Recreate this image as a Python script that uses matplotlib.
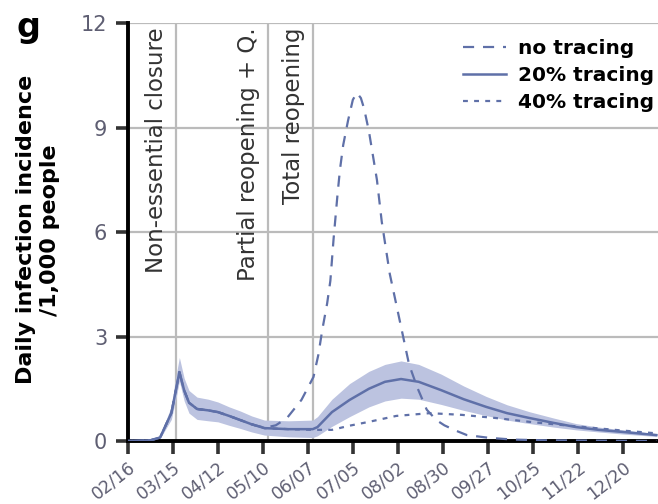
import matplotlib
matplotlib.use("Agg")
import matplotlib.pyplot as plt
import pandas as pd

# ---- data: days since 2020-02-16 and daily incidence per 1,000 people ----
start = pd.Timestamp("2020-02-16")

tracing20_days = [0, 14, 20, 27, 30, 32, 35, 38, 43, 50, 56, 63, 70, 77, 85, 100, 115,
                  118, 127, 138, 150, 160, 170, 181, 195, 209, 223, 236, 250, 265,
                  279, 293, 308, 329]
tracing20_mid = [0.0, 0.02, 0.1, 0.8, 1.5, 1.98, 1.45, 1.1, 0.92, 0.88, 0.83, 0.72, 0.6,
                 0.48, 0.37, 0.34, 0.34, 0.4, 0.83, 1.18, 1.5, 1.7, 1.78, 1.7, 1.46,
                 1.2, 0.98, 0.8, 0.66, 0.52, 0.4, 0.32, 0.26, 0.17]
tracing20_low = [0.0, 0.01, 0.07, 0.62, 1.25, 1.72, 1.15, 0.8, 0.62, 0.58, 0.55, 0.45, 0.36,
                 0.26, 0.17, 0.12, 0.1, 0.15, 0.42, 0.7, 0.98, 1.15, 1.23, 1.2, 1.05,
                 0.88, 0.73, 0.6, 0.5, 0.4, 0.32, 0.26, 0.2, 0.13]
tracing20_high = [0.0, 0.04, 0.16, 1.0, 1.9, 2.4, 1.8, 1.45, 1.26, 1.2, 1.12, 0.98, 0.86,
                  0.72, 0.6, 0.58, 0.6, 0.7, 1.2, 1.65, 2.0, 2.2, 2.3, 2.2, 1.92,
                  1.58, 1.28, 1.04, 0.84, 0.66, 0.5, 0.4, 0.32, 0.21]

no_tracing_days = [0, 14, 20, 27, 30, 32, 35, 38, 43, 50, 56, 63, 70, 77, 85, 92, 99,
                   108, 115.5, 118.5, 121, 124, 126, 128, 130.5, 132, 134, 137, 140,
                   142.5, 145, 147, 150, 155, 158, 163, 169, 175, 180, 186, 192, 197,
                   204, 211, 225, 240, 260, 290, 329]
no_tracing = [0.0, 0.02, 0.1, 0.8, 1.5, 1.98, 1.45, 1.1, 0.92, 0.88, 0.83, 0.72, 0.6,
              0.48, 0.38, 0.45, 0.66, 1.18, 1.84, 2.47, 3.2, 3.95, 4.6, 5.8, 7.1, 7.8,
              8.5, 9.2, 9.8, 10.0, 9.85, 9.55, 8.9, 7.5, 6.3, 4.8, 3.5, 2.2, 1.55, 0.9,
              0.6, 0.45, 0.3, 0.17, 0.09, 0.04, 0.02, 0.01, 0.0]

tracing40_days = [0, 14, 20, 27, 30, 32, 35, 38, 43, 50, 56, 63, 70, 77, 85, 100, 115,
                  127, 138, 150, 167, 188, 208, 229, 250, 270, 291, 308, 329]
tracing40 = [0.0, 0.02, 0.1, 0.8, 1.5, 1.98, 1.45, 1.1, 0.92, 0.88, 0.83, 0.72, 0.6,
             0.48, 0.37, 0.34, 0.32, 0.32, 0.44, 0.55, 0.72, 0.8, 0.75, 0.66, 0.55,
             0.46, 0.37, 0.3, 0.22]

# policy events
event_dates = ["2020-03-17", "2020-05-13", "2020-06-10"]
event_labels = ["Non-essential closure", "Partial reopening + Q.", "Total reopening"]

tick_dates = ["2020-02-16", "2020-03-15", "2020-04-12", "2020-05-10", "2020-06-07",
              "2020-07-05", "2020-08-02", "2020-08-30", "2020-09-27", "2020-10-25",
              "2020-11-22", "2020-12-20"]
tick_labels = ["02/16", "03/15", "04/12", "05/10", "06/07", "07/05", "08/02", "08/30",
               "09/27", "10/25", "11/22", "12/20"]
y_ticks = [0, 3, 6, 9, 12]

# ---- styling ----
line_c = "#5f70a8"
band_c = "#bcc3e0"
grid_c = "#bbbbbb"
label_c = "#5e5e72"


def to_dates(days):
    return [start + pd.Timedelta(days=float(d)) for d in days]


fig = plt.figure(figsize=(6.58, 5.04), dpi=100)
ax = fig.add_axes([0.1945, 0.125, 0.8055, 0.829])

# grid
for y in y_ticks[1:]:
    ax.axhline(y, color=grid_c, lw=1.6, zorder=0)
for d in event_dates:
    ax.axvline(pd.Timestamp(d), color=grid_c, lw=1.6, zorder=0)

ax.fill_between(to_dates(tracing20_days), tracing20_low, tracing20_high,
                color=band_c, lw=0, zorder=1)
ax.plot(to_dates(no_tracing_days), no_tracing, color=line_c, lw=1.6,
        dashes=(5, 4), label="no tracing", zorder=3)
ax.plot(to_dates(tracing20_days), tracing20_mid, color=line_c, lw=1.8,
        label="20% tracing", zorder=3)
ax.plot(to_dates(tracing40_days), tracing40, color=line_c, lw=1.6,
        dashes=(2.2, 2.8), label="40% tracing", zorder=3)

# event labels
for d, lab in zip(event_dates, event_labels):
    ax.text(pd.Timestamp(d) - pd.Timedelta(days=12), 11.88, lab, rotation=90,
            ha="center", va="top", fontsize=16.5, color="#333333")

ax.set_xlim(start, start + pd.Timedelta(days=330))
ax.set_ylim(0, 12)
ax.set_yticks(y_ticks)
ax.set_yticklabels([str(v) for v in y_ticks], fontsize=15, color=label_c)
ax.set_xticks([pd.Timestamp(t) for t in tick_dates])
ax.set_xticklabels(tick_labels, rotation=38, ha="right", rotation_mode="anchor",
                   fontsize=12.5, color=label_c)
ax.tick_params(axis="both", length=9, width=2.6, color="#333333", pad=6)
ax.tick_params(axis="x", pad=3)

for s in ["top", "right"]:
    ax.spines[s].set_visible(False)
for s in ["left", "bottom"]:
    ax.spines[s].set_linewidth(2.8)
    ax.spines[s].set_color("black")

fig.text(0.058, 0.544, "Daily infection incidence\n/1,000 people", fontsize=16,
         fontweight="bold", rotation=90, ha="center", va="center",
         multialignment="center", linespacing=1.25)

leg = ax.legend(loc="upper right", bbox_to_anchor=(1.0, 0.972), frameon=False,
                fontsize=14.5, handlelength=2.1, handletextpad=0.6,
                labelspacing=0.4, borderpad=0.2, borderaxespad=0.0)
for t in leg.get_texts():
    t.set_fontweight("semibold")

fig.text(0.043, 0.945, "g", fontsize=24, fontweight="bold", ha="center", va="center")

fig.savefig("out.png", dpi=100)
